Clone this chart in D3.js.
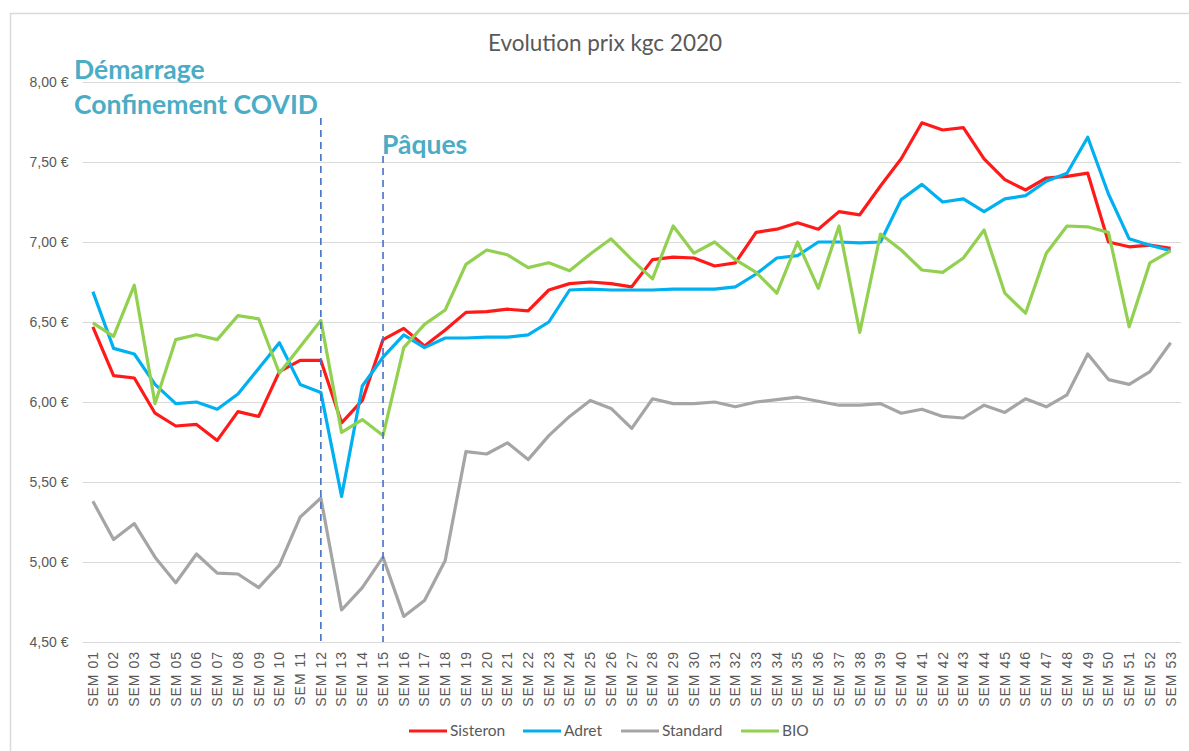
<!DOCTYPE html>
<html>
<head>
<meta charset="utf-8">
<script src="https://cdn.jsdelivr.net/npm/d3@7"></script>
<style>
  body { margin: 0; background: #fff; }
  svg { display: block; font-family: Lato, "Open Sans", sans-serif; }
</style>
</head>
<body>
<div id="viz"></div>
<script>
// semaines
var weeks = d3.range(1, 54).map(function(i){ return "SEM " + (i < 10 ? "0" + i : i); });

var sisteron = [6.47,6.165,6.15,5.93,5.85,5.86,5.76,5.94,5.91,6.19,6.26,6.26,5.87,6.01,6.39,6.46,6.35,6.45,6.56,6.565,6.58,6.57,6.70,6.74,6.75,6.74,6.72,6.89,6.905,6.90,6.85,6.87,7.06,7.08,7.12,7.08,7.19,7.17,7.35,7.52,7.745,7.70,7.715,7.52,7.39,7.325,7.40,7.41,7.43,7.00,6.97,6.98,6.96];
var adret = [6.69,6.335,6.30,6.11,5.99,6.00,5.955,6.05,6.21,6.37,6.11,6.06,5.41,6.10,6.28,6.42,6.34,6.40,6.40,6.405,6.405,6.42,6.50,6.70,6.705,6.70,6.70,6.70,6.705,6.705,6.705,6.72,6.80,6.90,6.915,7.00,7.00,6.995,7.00,7.265,7.36,7.25,7.27,7.19,7.27,7.29,7.38,7.43,7.655,7.30,7.02,6.98,6.945];
var standard = [5.38,5.14,5.24,5.03,4.87,5.05,4.93,4.925,4.84,4.98,5.28,5.40,4.70,4.84,5.03,4.66,4.76,5.01,5.69,5.675,5.745,5.64,5.79,5.91,6.01,5.96,5.835,6.02,5.99,5.99,6.00,5.97,6.00,6.015,6.03,6.005,5.98,5.98,5.99,5.93,5.955,5.91,5.90,5.98,5.935,6.02,5.97,6.045,6.30,6.14,6.11,6.19,6.37];
var bio = [6.495,6.41,6.73,5.99,6.39,6.42,6.39,6.54,6.52,6.18,6.345,6.51,5.81,5.89,5.79,6.34,6.485,6.575,6.86,6.95,6.92,6.84,6.87,6.82,6.925,7.02,6.89,6.77,7.10,6.93,7.00,6.89,6.81,6.68,7.00,6.71,7.10,6.435,7.05,6.95,6.825,6.81,6.90,7.075,6.68,6.555,6.93,7.10,7.095,7.06,6.47,6.87,6.945];

var seriesNames = ["Sisteron", "Adret", "Standard", "BIO"];
var seriesValues = [sisteron, adret, standard, bio];
var seriesColors = ["#ff1a1a", "#00b0f0", "#a5a5a5", "#92d050"];

var yTicks = [4.5, 5, 5.5, 6, 6.5, 7, 7.5, 8];

// annotations : semaine du trait + libellé
var markers = [
  { week: "SEM 12", top: 118, lines: ["Démarrage", "Confinement COVID"], x: 74, y: 79 },
  { week: "SEM 15", top: 156, lines: ["Pâques"], x: 382, y: 154 }
];

var width = 1189, height = 751;
var plotLeft = 82.5, plotRight = 1181, plotTop = 82, plotBottom = 642;

var svg = d3.select("#viz").append("svg")
  .attr("width", width)
  .attr("height", height);

svg.append("rect")
  .attr("x", 10.5).attr("y", 13.5)
  .attr("width", width + 10).attr("height", height + 10)
  .style("fill", "#fff")
  .style("stroke", "#d9d9d9")
  .style("stroke-width", 1.5);

var x = d3.scaleBand().domain(weeks).range([plotLeft, plotRight]);
var y = d3.scaleLinear().domain([4.5, 8]).range([plotBottom, plotTop]);
var fmt = function(v){ return d3.format(".2f")(v).replace(".", ",") + " €"; };

// grille + axe y
var yAxis = svg.append("g")
  .attr("transform", "translate(" + plotLeft + ",0)")
  .call(d3.axisLeft(y).tickValues(yTicks).tickSize(-(plotRight - plotLeft)).tickFormat(fmt));
yAxis.select(".domain").remove();
yAxis.selectAll(".tick line").style("stroke", "#d9d9d9").style("stroke-width", 1);
yAxis.selectAll(".tick text")
  .attr("x", -14)
  .style("font-size", "14px")
  .style("fill", "#595959");

// axe x
var xAxis = svg.append("g")
  .attr("transform", "translate(0," + plotBottom + ")")
  .call(d3.axisBottom(x).tickSize(0));
xAxis.select(".domain").remove();
xAxis.selectAll(".tick text")
  .attr("transform", "rotate(-90)")
  .attr("x", -9).attr("y", 0).attr("dy", "0.35em")
  .style("text-anchor", "end")
  .style("font-size", "14px")
  .style("letter-spacing", "1px")
  .style("fill", "#595959");

// courbes
var line = d3.line()
  .x(function(d, i){ return x(weeks[i]) + x.bandwidth() / 2; })
  .y(function(d){ return y(d); });

seriesValues.forEach(function(vals, k){
  svg.append("path")
    .datum(vals)
    .attr("d", line)
    .style("fill", "none")
    .style("stroke", seriesColors[k])
    .style("stroke-width", 3.2)
    .style("stroke-linejoin", "round");
});

// traits pointillés + textes
markers.forEach(function(m){
  var mx = x(m.week) + x.bandwidth() / 2;
  svg.append("line")
    .attr("x1", mx).attr("x2", mx)
    .attr("y1", m.top).attr("y2", plotBottom)
    .style("stroke", "#4472c4")
    .style("stroke-width", 1.6)
    .style("stroke-dasharray", "7,5");
  svg.append("text")
    .attr("x", m.x).attr("y", m.y)
    .style("font-size", "26.5px")
    .style("font-weight", "bold")
    .style("fill", "#4bacc6")
    .selectAll("tspan")
    .data(m.lines)
    .enter()
    .append("tspan")
    .attr("x", m.x)
    .attr("dy", function(d, i){ return i ? 35 : 0; })
    .text(function(d){ return d; });
});

// titre
svg.append("text")
  .attr("x", 605).attr("y", 51)
  .attr("text-anchor", "middle")
  .style("font-size", "22.5px")
  .style("fill", "#595959")
  .text("Evolution prix kgc 2020");

// légende
var legendX = [409, 523, 621, 741];
var legend = svg.append("g");
seriesNames.forEach(function(name, k){
  legend.append("line")
    .attr("x1", legendX[k]).attr("x2", legendX[k] + 38)
    .attr("y1", 731).attr("y2", 731)
    .style("stroke", seriesColors[k])
    .style("stroke-width", 3.2);
  legend.append("text")
    .attr("x", legendX[k] + 41).attr("y", 731).attr("dy", "0.35em")
    .style("font-size", "15.5px")
    .style("fill", "#595959")
    .text(name);
});
</script>
</body>
</html>
